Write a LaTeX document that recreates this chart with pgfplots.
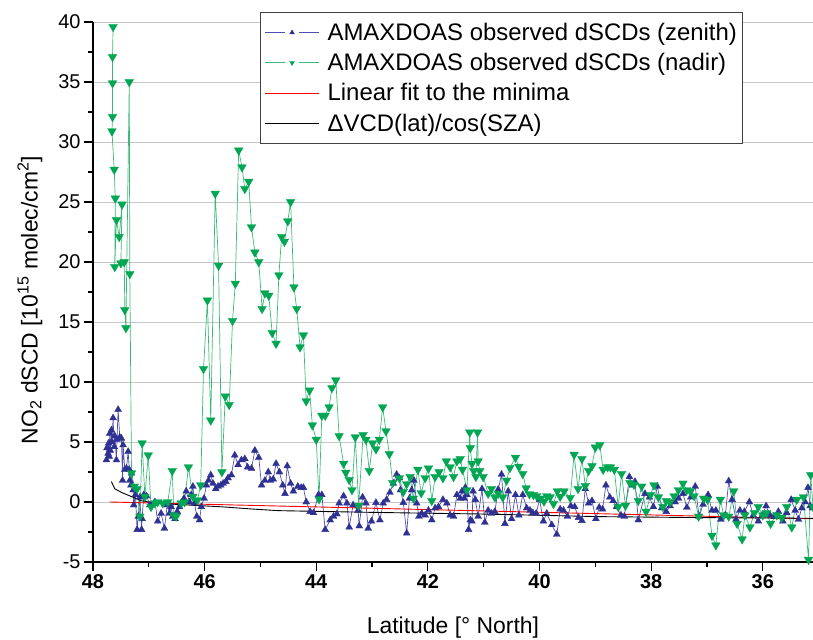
\documentclass[border=0pt]{standalone}
\usepackage{pgfplots}
\pgfplotsset{compat=1.18}
\usepackage{fontspec}
\setmainfont{Liberation Sans}
\definecolor{zmark}{RGB}{46,49,146}
\definecolor{zline}{RGB}{80,80,175}
\definecolor{nmark}{RGB}{0,166,81}
\definecolor{nline}{RGB}{60,184,120}
\begin{document}
\begin{tikzpicture}
\begin{axis}[
  scale only axis, width=720bp, height=540bp,
  x dir=reverse, xmin=35.1, xmax=48, ymin=-5, ymax=40,
  axis x line*=bottom, axis y line*=left,
  axis line style={line width=1.4bp},
  xtick={36,38,...,48}, ytick={-5,0,...,40},
  minor x tick num=1, minor y tick num=1,
  tick align=outside,
  major tick length=9bp, minor tick length=5bp,
  tick style={line width=1.2bp, black},
  ymajorgrids, major grid style={line width=0.8bp, black!22},
  /pgf/number format/assume math mode=true,
  ticklabel style={font=\fontsize{20}{24}\selectfont},
  xticklabel style={font=\fontsize{20}{24}\selectfont\bfseries},
  yticklabel style={font=\fontsize{20}{24}\selectfont},
  label style={font=\fontsize{23}{27}\selectfont},
  xlabel={Latitude [° North]},
  ylabel={NO\textsubscript{2} dSCD [10\textsuperscript{15} molec/cm\textsuperscript{2}]},
  xlabel style={at={(axis description cs:0.5,-0.122)}, anchor=center},
  ylabel style={at={(axis description cs:-0.0875,0.485)}, anchor=center},
  legend style={at={(axis description cs:0.232,1.0185)}, anchor=north west,
    draw=black!75, line width=1bp, font=\fontsize{24}{28}\selectfont,
    inner xsep=4bp, inner ysep=5bp,
    nodes={inner ysep=5.7bp},
    /tikz/every odd column/.append style={column sep=6bp}},
  legend cell align=left,
]
\addplot[color=zline, line width=0.7bp, mark=triangle*, mark size=4bp,
  mark options={fill=zmark, draw=zmark, line width=0.3bp},
  legend image code/.code={
    \draw[zline, line width=1.1bp] (0bp,0bp)--(20bp,0bp);
    \draw[zline, line width=1.1bp] (34bp,0bp)--(54bp,0bp);
    \fill[zmark] (27bp,2.4bp)--(24.9bp,-1.2bp)--(29.1bp,-1.2bp)--cycle;
  }] coordinates {
(47.76,3.5)(47.75,4.5)(47.73,4.05)(47.72,4.9)(47.71,3.8)(47.70,5.7)(47.69,4.3)
(47.67,6.0)(47.66,5.0)(47.64,7.0)(47.62,4.6)(47.61,5.5)(47.58,3.5)(47.57,5.2)
(47.55,7.7)(47.52,5.4)(47.49,5.3)(47.47,1.8)(47.46,4.75)(47.43,2.7)(47.40,2.8)
(47.37,4.2)(47.35,2.7)(47.34,1.8)(47.32,1.4)(47.31,2.4)(47.28,1.0)(47.27,-0.25)
(47.24,0.6)(47.21,-2.3)(47.19,-1.2)(47.16,0.4)(47.13,-2.3)(47.12,-1.4)(47.09,0.6)
(47.04,0.5)(46.98,-0.25)(46.89,0.0)(46.84,-1.6)(46.78,-0.95)(46.72,-2.2)(46.67,-0.25)
(46.63,-0.95)(46.60,-0.4)(46.57,-1.2)(46.53,-1.4)(46.49,-0.8)(46.45,-0.4)(46.42,-0.1)
(46.37,0.3)(46.33,0.9)(46.27,0.0)(46.24,0.6)(46.21,1.3)(46.18,-0.1)(46.14,-1.2)
(46.09,-1.5)(46.06,-0.4)(46.01,0.3)(45.97,1.4)(45.93,1.8)(45.89,2.25)(45.85,1.55)
(45.80,1.1)(45.76,1.3)(45.71,1.4)(45.67,1.55)(45.62,1.7)(45.58,2.0)(45.52,2.25)
(45.46,3.9)(45.40,3.1)(45.34,3.5)(45.28,3.6)(45.23,2.9)(45.16,2.8)(45.10,4.3)
(45.03,3.7)(44.98,1.4)(44.92,1.8)(44.86,2.5)(44.82,1.8)(44.77,1.9)(44.72,3.2)
(44.66,2.5)(44.60,1.4)(44.56,0.7)(44.52,3.0)(44.46,1.55)(44.41,0.9)(44.33,1.3)
(44.27,1.2)(44.23,1.2)(44.18,0.0)(44.11,-0.8)(44.05,-0.9)(43.96,0.6)(43.90,0.6)
(43.84,-2.3)(43.75,-1.5)(43.69,-1.2)(43.63,-1.0)(43.59,-0.1)(43.51,0.5)(43.45,-0.1)
(43.41,-2.1)(43.34,-0.25)(43.25,-0.7)(43.23,-2.0)(43.17,0.4)(43.11,-0.1)(43.07,-2.2)
(43.01,-1.6)(42.93,-0.05)(42.86,-1.5)(42.80,-0.1)(42.74,0.2)(42.68,0.8)(42.62,1.55)
(42.56,2.3)(42.51,2.0)(42.49,1.0)(42.44,-0.05)(42.38,-2.6)(42.33,0.3)(42.29,1.0)
(42.25,1.8)(42.20,-0.1)(42.16,-1.2)(42.11,-0.95)(42.05,-1.1)(41.99,-0.7)(41.93,-1.5)
(41.87,-0.5)(41.81,-0.4)(41.73,0.2)(41.66,-0.1)(41.60,-1.1)(41.54,-1.2)(41.48,0.6)
(41.42,0.3)(41.39,0.9)(41.35,0.3)(41.33,1.2)(41.30,0.6)(41.27,-2.3)(41.24,-1.5)
(41.21,-1.6)(41.19,0.9)(41.15,0.2)(41.10,-1.2)(41.03,1.1)(40.98,-1.7)(40.92,-0.7)
(40.86,-0.95)(40.80,-0.8)(40.74,1.05)(40.68,2.3)(40.62,-1.8)(40.56,0.9)(40.50,-1.4)
(40.43,0.6)(40.37,-1.1)(40.30,0.6)(40.23,-0.5)(40.17,-0.7)(40.12,-0.9)(40.06,-0.95)
(40.00,0.2)(39.93,-1.6)(39.87,-0.95)(39.78,-1.9)(39.69,-2.7)(39.63,-0.6)(39.57,-0.7)
(39.50,-1.2)(39.44,-0.33)(39.37,-0.4)(39.30,-1.3)(39.24,-1.55)(39.18,1.1)(39.12,-0.1)
(39.06,0.1)(38.99,-1.4)(38.93,-0.45)(38.87,-0.6)(38.81,1.4)(38.74,0.4)(38.68,0.1)
(38.62,-0.4)(38.54,-1.1)(38.48,-1.2)(38.39,2.1)(38.33,1.4)(38.29,1.7)(38.23,-1.5)
(38.11,0.7)(38.03,0.4)(37.96,-0.4)(37.89,1.3)(37.81,-0.5)(37.73,-0.8)(37.66,-0.33)
(37.57,0.0)(37.51,0.3)(37.43,0.7)(37.36,-0.45)(37.29,0.4)(37.21,1.3)(37.14,-1.2)
(37.07,-0.2)(36.98,0.6)(36.91,-0.7)(36.84,-0.7)(36.75,-1.45)(36.67,-1.1)(36.61,1.75)
(36.55,0.2)(36.48,-1.45)(36.41,-0.7)(36.33,-0.8)(36.24,0.0)(36.17,-1.1)(36.08,-1.6)
(36.01,-1.1)(35.94,-0.33)(35.87,-1.1)(35.80,-1.2)(35.72,-0.8)(35.64,-1.6)(35.57,-0.9)
(35.49,0.2)(35.42,-0.7)(35.36,-1.45)(35.30,-0.5)(35.24,0.0)(35.19,1.2)(35.15,-0.33)
(35.11,-0.5)
};
\addlegendentry{AMAXDOAS observed dSCDs (zenith)}
\addplot[color=nline, line width=0.7bp, mark=triangle*, mark size=5bp,
  mark options={fill=nmark, draw=nmark, rotate=180, line width=0.3bp},
  legend image code/.code={
    \draw[nline, line width=1.1bp] (0bp,0bp)--(20bp,0bp);
    \draw[nline, line width=1.1bp] (34bp,0bp)--(54bp,0bp);
    \fill[nmark] (27bp,-2.4bp)--(24.9bp,1.2bp)--(29.1bp,1.2bp)--cycle;
  }] coordinates {
(47.64,39.6)(47.65,37.1)(47.65,34.9)(47.65,32.1)(47.66,30.9)(47.62,27.7)(47.60,25.3)
(47.61,19.6)(47.58,23.5)(47.53,22.1)(47.48,24.8)(47.50,19.9)(47.44,20.0)(47.43,16.0)
(47.41,14.5)(47.35,35.0)(47.34,19.0)(47.31,2.4)(47.26,1.3)(47.21,1.1)(47.16,-1.2)
(47.12,4.9)(47.07,0.45)(47.01,3.9)(46.96,-0.4)(46.89,-0.1)(46.84,0.0)(46.75,-0.1)
(46.66,0.0)(46.58,2.6)(46.55,-1.1)(46.51,-1.2)(46.42,-0.1)(46.36,0.0)(46.29,2.9)
(46.21,0.45)(46.13,0.15)(46.07,1.4)(46.02,11.1)(45.95,16.8)(45.89,6.8)(45.81,25.7)
(45.75,19.7)(45.69,2.5)(45.63,8.8)(45.56,8.1)(45.50,15.1)(45.45,18.2)(45.39,29.3)
(45.33,27.9)(45.28,26.1)(45.21,26.7)(45.16,22.9)(45.10,20.8)(45.03,20.0)(44.97,16.1)
(44.92,17.4)(44.85,17.2)(44.79,14.1)(44.72,13.2)(44.67,18.9)(44.62,22.1)(44.57,21.7)
(44.51,23.4)(44.46,25.0)(44.40,17.9)(44.35,16.1)(44.29,12.9)(44.23,13.9)(44.18,8.4)
(44.12,9.3)(44.07,6.4)(44.00,5.2)(43.95,0.25)(43.90,7.2)(43.84,7.2)(43.77,7.9)
(43.72,9.5)(43.65,10.15)(43.59,5.5)(43.51,3.2)(43.47,2.45)(43.41,1.85)(43.36,1.0)
(43.30,5.4)(43.24,-0.3)(43.16,5.6)(43.11,5.2)(43.05,2.6)(42.99,4.9)(42.93,4.4)
(42.87,5.2)(42.81,7.9)(42.75,5.9)(42.69,4.0)(42.63,1.6)(42.51,2.0)(42.44,0.85)
(42.38,1.5)(42.32,2.1)(42.26,0.3)(42.18,2.7)(42.12,0.75)(42.05,2.0)(41.99,2.8)
(41.93,0.1)(41.87,2.1)(41.80,2.5)(41.73,2.0)(41.67,3.4)(41.60,2.9)(41.54,2.1)
(41.48,3.4)(41.42,3.6)(41.38,2.7)(41.30,1.0)(41.25,5.8)(41.24,4.5)(41.21,3.2)
(41.18,2.6)(41.14,2.1)(41.11,5.8)(41.10,3.4)(41.07,2.6)(41.01,2.1)(40.92,0.7)
(40.86,1.1)(40.80,0.4)(40.74,0.7)(40.66,0.4)(40.59,1.8)(40.53,2.85)(40.43,3.7)
(40.37,2.95)(40.30,2.35)(40.24,1.15)(40.18,0.65)(40.11,0.6)(40.05,0.5)(39.98,0.3)
(39.92,0.05)(39.87,0.5)(39.81,0.4)(39.75,-0.15)(39.68,0.9)(39.63,0.45)(39.56,0.9)
(39.45,0.35)(39.38,3.95)(39.31,1.1)(39.24,3.6)(39.18,1.35)(39.12,2.6)(39.06,3.0)
(39.00,4.55)(38.92,4.75)(38.86,2.7)(38.78,2.9)(38.73,2.9)(38.66,2.7)(38.59,-0.4)
(38.53,2.35)(38.46,-0.3)(38.38,1.6)(38.31,1.45)(38.23,0.1)(38.17,1.3)(38.09,-0.8)
(38.01,0.6)(37.95,1.4)(37.87,0.4)(37.79,-0.4)(37.73,0.1)(37.66,0.0)(37.59,0.5)
(37.51,1.0)(37.43,1.55)(37.36,1.0)(37.30,0.9)(37.23,0.5)(37.15,-1.2)(37.06,0.3)
(36.99,0.2)(36.91,-2.8)(36.84,-3.6)(36.76,0.2)(36.70,-1.1)(36.61,-1.2)(36.52,0.9)
(36.46,-1.8)(36.37,-3.1)(36.32,-1.1)(36.23,-2.1)(36.15,-0.9)(36.08,-0.4)(36.00,-1.1)
(35.93,-0.9)(35.86,-1.8)(35.75,-1.1)(35.66,-1.3)(35.57,-0.4)(35.48,-2.1)(35.39,0.2)
(35.27,0.4)(35.18,-4.8)(35.14,2.25)(35.10,-0.4)
};
\addlegendentry{AMAXDOAS observed dSCDs (nadir)}
\addplot[color=red, line width=0.9bp,
  legend image code/.code={\draw[red, line width=1.1bp] (0bp,0bp)--(54bp,0bp);}]
  coordinates {(47.7,0.0)(35.1,-1.4)};
\addlegendentry{Linear fit to the minima}
\addplot[color=black, line width=0.9bp,
  legend image code/.code={\draw[black, line width=1.1bp] (0bp,0bp)--(54bp,0bp);}]
  coordinates {
(47.67,1.7)(47.61,1.1)(47.49,0.8)(47.31,0.45)(47.13,0.1)(46.89,-0.1)(46.30,-0.25)
(45.70,-0.4)(45.10,-0.6)(44.68,-0.72)(44.00,-0.78)(43.04,-0.86)(42.50,-0.9)
(41.06,-1.0)(38.91,-1.22)(37.12,-1.3)(35.10,-1.36)};
\addlegendentry{ΔVCD(lat)/cos(SZA)}
\end{axis}
\pgfresetboundingbox
\path (-93bp,-78bp) rectangle (720bp,562bp);
\end{tikzpicture}
\end{document}
